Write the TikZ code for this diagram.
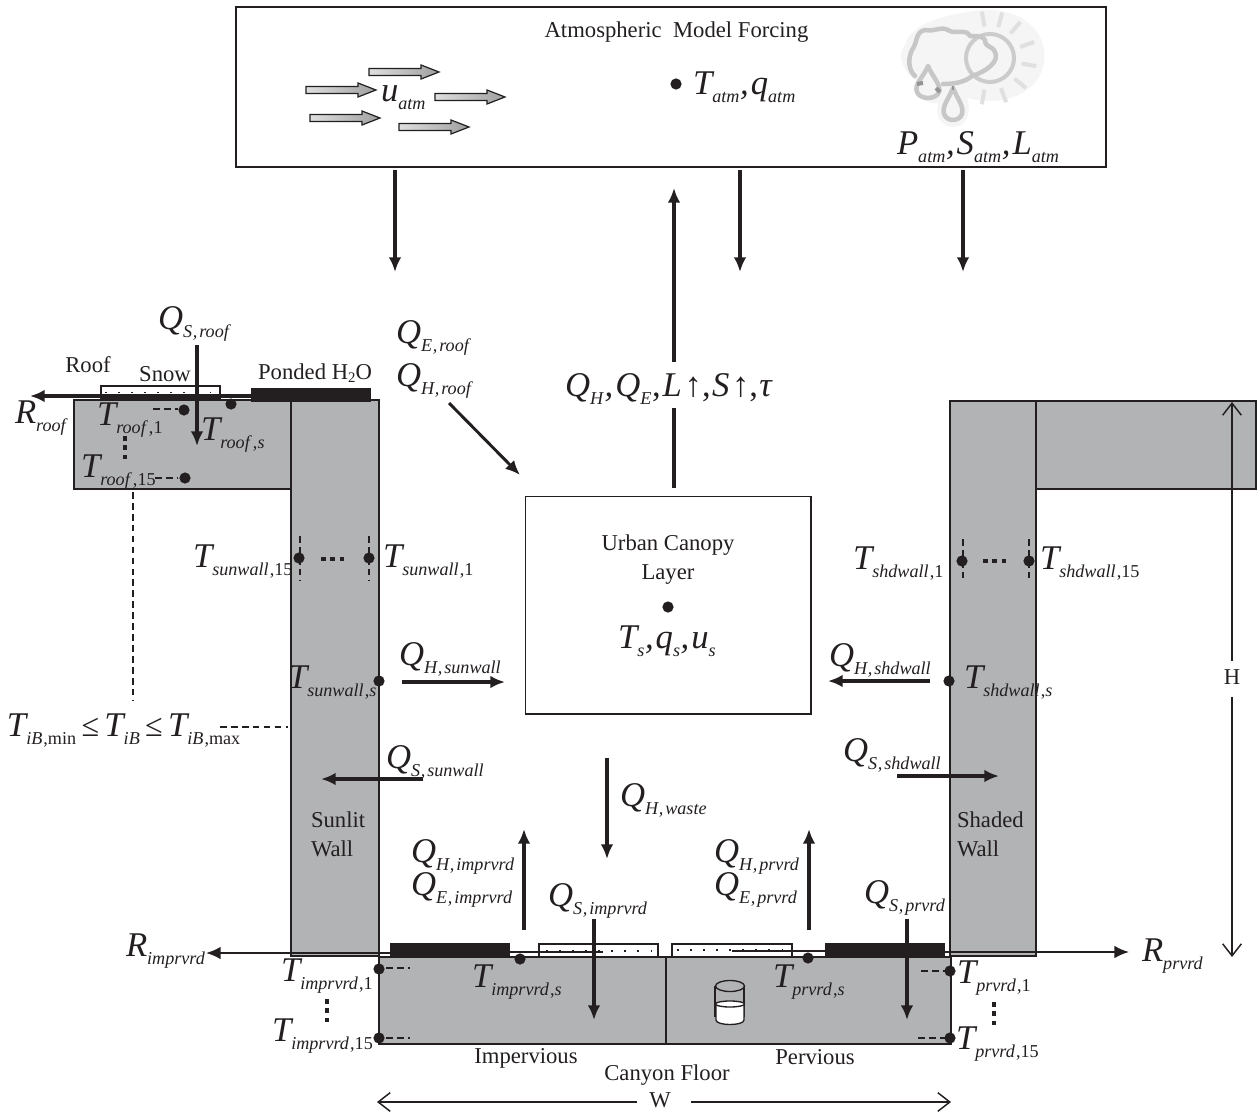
\documentclass[tikz,border=0pt]{standalone}
\usepackage{fontspec}
\setmainfont{Liberation Serif}
\usetikzlibrary{arrows.meta,calc}
\definecolor{wallgray}{RGB}{178,179,181}
\definecolor{ink}{RGB}{35,31,32}
\newcommand{\txtsize}{\fontsize{17pt}{20pt}\selectfont}
% symbol with subscript: \Sy{T}{sub}
\newcommand{\Sy}[2]{{\fontsize{26pt}{28pt}\selectfont\itshape #1}\raisebox{-6.4pt}{\fontsize{13.6pt}{15pt}\selectfont #2}}
\newcommand{\Cm}{\kern0.5pt,\kern1.5pt}
\newcommand{\Cs}{\kern0.8pt,}
\newcommand{\iz}[1]{\textit{#1}}
\tikzset{
 x=0.75pt,y=-0.75pt,
 every node/.style={inner sep=0pt,outer sep=0pt,text=ink},
 lab/.style={anchor=base west},
 plain/.style={anchor=base,align=center,font=\txtsize},
 plainleft/.style={anchor=base west,align=left,font=\txtsize},
 wall/.style={draw=ink,fill=wallgray,line width=1.1pt},
 box/.style={draw=ink,fill=white,line width=1.1pt},
 flux/.style={draw=ink,line width=2.5pt,-{Latex[length=11pt,width=9.5pt]}},
 fluxline/.style={draw=ink,line width=2.5pt},
 thin arrow/.style={draw=ink,line width=1.2pt,-{Straight Barb[length=9pt,width=14pt,line width=1.1pt]}},
 dot/.style={circle,fill=ink,minimum size=8.4pt},
 dash line/.style={draw=ink,line width=0.9pt,dash pattern=on 5pt off 3.2pt},
 squares/.style={draw=ink,line width=3.6pt,dash pattern=on 3.6pt off 3.4pt},
 snowbox/.style={draw=ink,fill=white,line width=0.8pt},
 pond/.style={fill=ink},
 windarrow/.style={draw=ink,line width=0.9pt},
 icon/.style={draw=black!22,line width=3.4pt,line cap=round,line join=round},
 ray/.style={draw=black!12,line width=3pt},
}
\newcommand{\wind}[2]{% x0, y
 \draw[windarrow,left color=gray!25,right color=gray!75] (#1,#2-3.5) -- ++(52,0) -- ++(0,-3.5) -- ++(18,7) -- ++(-18,7) -- ++(0,-3.5) -- ++(-52,0) -- cycle;}
\newcommand{\snowdots}[3]{% x0,x1,y
 \draw[draw=ink,line width=1.3pt,dash pattern=on 1.3pt off 8.5pt] (#1,#3) -- (#2,#3);}
\begin{document}
\begin{tikzpicture}
\useasboundingbox (0,0) rectangle (1259,1113);

% Atmosphere box
\draw[box] (236,7) rectangle (1106,167);
\node[plain] (atmtitle) at (676.5,38) {Atmospheric\ \ Model Forcing};
\wind{369}{72} \wind{306}{90} \wind{435}{97} \wind{310}{118} \wind{399}{127}
\node[lab] (uatm) at (381,101) {\Sy{u}{\iz{atm}}};
\node[dot] (atmdot) at (676,84) {};
\node[lab] (tatm) at (693,94) {\Sy{T}{\iz{atm}}\Sy{\Cm q}{\iz{atm}}};
\node[lab] (patm) at (897,154) {\Sy{P}{\iz{atm}}\Sy{\Cm S}{\iz{atm}}\Sy{\Cm L}{\iz{atm}}};

% Weather icon
\fill[black!4] (982,10) .. controls (1020,8) and (1048,30) .. (1044,62) .. controls (1040,92) and (1005,108) .. (967,98) .. controls (972,115) and (965,127) .. (953,127) .. controls (940,127) and (935,115) .. (938,103) .. controls (925,105) and (915,95) .. (918,82) .. controls (905,75) and (895,55) .. (905,45) .. controls (910,25) and (940,15) .. (982,10) -- cycle;
\draw[draw=black!20,line width=3pt] (990,58) circle (24);
\foreach \a in {-100,-75,-50,-20,10,40,70,100}
 \draw[ray] ($(990,58)+(\a:32)$) -- ($(990,58)+(\a:47)$);
\draw[icon] (943,84) .. controls (955,84) and (965,82) .. (972,76) .. controls (985,72) and (1000,62) .. (995,52) .. controls (992,45) and (985,48) .. (985,40) .. controls (980,34) and (975,37) .. (970,36) .. controls (966,28) and (955,35) .. (948,30) .. controls (940,26) and (935,32) .. (925,30) .. controls (915,32) and (918,42) .. (912,50) .. controls (908,58) and (908,70) .. (915,76);
\draw[icon] (928,66) .. controls (923,78) and (914,84) .. (917,92) .. controls (920,100) and (936,100) .. (939,92) .. controls (941,84) and (933,78) .. (928,66) -- cycle;
\draw[icon] (953,88) .. controls (948,100) and (942,106) .. (944,114) .. controls (947,122) and (959,122) .. (962,114) .. controls (964,106) and (958,100) .. (953,88) -- cycle;
\draw[draw=black!42,line width=3pt] (917,84) -- (923,83);
\draw[draw=black!42,line width=3pt] (936,88) -- (940,92);
\draw[draw=black!42,line width=2pt] (953,86) -- (953,90);

% Forcing arrows
\coordinate (f1s) at (395,170); \coordinate (f1e) at (395,272);
\coordinate (f2s) at (740,170); \coordinate (f2e) at (740,272);
\coordinate (f3s) at (963,170); \coordinate (f3e) at (963,272);
\draw[flux] (f1s) -- (f1e);
\draw[flux] (f2s) -- (f2e);
\draw[flux] (f3s) -- (f3e);

% Sunlit building
\draw[wall] (74,400) rectangle (291,489);
\draw[wall] (291,400) rectangle (379,956);
% Shaded building
\draw[wall] (1036,401) rectangle (1256,489);
\draw[wall] (950,401) rectangle (1036,956);
\draw[draw=ink,line width=1.8pt] (950,401) -- (1252,401);
% Canyon floor
\draw[wall] (379,957) rectangle (666,1044);
\draw[wall] (666,957) rectangle (951,1044);

% Urban canopy layer
\node[draw=ink,fill=white,line width=1.1pt,minimum width=214pt,minimum height=163pt,anchor=north west] (ucl) at (525.5,496.5) {};
\node[plain] (ucltxt) at (668,579) {Urban Canopy\\[1.5pt]Layer};
\node[dot] (ucldot) at (668,607) {};
\node[lab] (tsq) at (618,648) {\Sy{T}{\iz{s}}\Sy{\Cm q}{\iz{s}}\Sy{\Cm u}{\iz{s}}};

% Roof surface
\draw[draw=ink,line width=1.4pt] (93,400) -- (251,400);
\draw[snowbox] (101,386) rectangle (220,399);
\snowdots{105}{218}{392.5}
\fill[pond] (251,388) rectangle (371,402);
\node[plain] (rooflab) at (88,372) {Roof};
\node[plain] (snowlab) at (165,381) {Snow};
\node[plain] (pondlab) at (315,379) {Ponded H\raisebox{-2.5pt}{\fontsize{11pt}{11pt}\selectfont 2}O};
\draw[flux] (251,396) -- (30,396);
\draw[flux] (197,345) -- (197,446);
\node[lab] (rroof) at (15,423) {\Sy{R}{\iz{roof}}};
\node[lab] (qsroof) at (158,329) {\Sy{Q}{\iz{S\Cm roof}}};
\node[dot] (d1) at (184,410) {};
\node[dot] (d2) at (231,404) {};
\node[dot] (d3) at (185,478) {};
\draw[dash line] (153,409) -- (178,409);
\draw[dash line] (155,478) -- (178,478);
\draw[squares] (125,436) -- (125,461);
\node[lab] (troof1) at (97,425) {\Sy{T}{\iz{roof}\Cs 1}};
\node[lab] (troofs) at (201,440) {\Sy{T}{\iz{roof}\Cs\iz{s}}};
\node[lab] (troof15) at (81,477) {\Sy{T}{\iz{roof}\Cs 15}};

% Inner boundary
\draw[dash line] (133,492) -- (133,701);
\draw[dash line] (220,727) -- (288,727);
\node[lab] (tib) at (7,736) {\Sy{T}{\iz{iB}\Cs min}\kern4pt{\fontsize{24pt}{26pt}\selectfont ≤}\kern4pt\Sy{T}{\iz{iB}}\kern4pt{\fontsize{24pt}{26pt}\selectfont ≤}\kern4pt\Sy{T}{\iz{iB}\Cs max}};

% Roof fluxes to UCL
\node[lab] (qeroof) at (396,343) {\Sy{Q}{\iz{E\Cm roof}}};
\node[lab] (qhroof) at (396,386) {\Sy{Q}{\iz{H\Cm roof}}};
\coordinate (rf1) at (449,403); \coordinate (rf2) at (520,475);
\draw[flux,line width=2.2pt] (rf1) -- (rf2);
% Up flux
\draw[fluxline] (674,488) -- (674,408);
\draw[flux] (674,362) -- (674,188);
\node[lab] (qup) at (565,396) {\Sy{Q}{\iz{H}}\Sy{\Cm Q}{\iz{E}}{\fontsize{26pt}{28pt}\selectfont\Cm\itshape L\kern2pt\upshape↑,\kern1pt\itshape S\kern2pt\upshape↑,\kern1pt\itshape τ}};

% Sunlit wall
\node[dot] (sw15) at (299,558) {};
\node[dot] (sw1) at (369,558) {};
\draw[dash line] (300,536) -- (300,580);
\draw[dash line] (369,536) -- (369,580);
\draw[squares] (321,559) -- (345,559);
\node[lab] (tsw15) at (193,567) {\Sy{T}{\iz{sunwall}\Cs 15}};
\node[lab] (tsw1) at (383,567) {\Sy{T}{\iz{sunwall}\Cs 1}};
\node[dot] (sws) at (379,681) {};
\node[lab] (tsws) at (288,688) {\Sy{T}{\iz{sunwall}\Cs\iz{s}}};
\node[lab] (qhsw) at (399,665) {\Sy{Q}{\iz{H\Cm sunwall}}};
\draw[flux] (402,682) -- (505,682);
\node[lab] (qssw) at (386,768) {\Sy{Q}{\iz{S\Cm sunwall}}};
\draw[flux] (423,779) -- (321,779);
\node[plainleft] (sunlit) at (311,856) {Sunlit\\[1.5pt]Wall};

% Shaded wall
\node[dot] (sh1) at (962,561) {};
\node[dot] (sh15) at (1029,561) {};
\draw[dash line] (963,539) -- (963,580);
\draw[dash line] (1029,539) -- (1029,580);
\draw[squares] (983,561) -- (1008,561);
\node[lab] (tsh1) at (853,569) {\Sy{T}{\iz{shdwall}\Cs 1}};
\node[lab] (tsh15) at (1040,569) {\Sy{T}{\iz{shdwall}\Cs 15}};
\node[dot] (shs) at (949,681) {};
\node[lab] (tshs) at (964,688) {\Sy{T}{\iz{shdwall}\Cs\iz{s}}};
\node[lab] (qhsh) at (829,666) {\Sy{Q}{\iz{H\Cm shdwall}}};
\draw[flux] (930,681) -- (828,681);
\node[lab] (qssh) at (843,761) {\Sy{Q}{\iz{S\Cm shdwall}}};
\draw[flux] (897,776) -- (999,776);
\node[plainleft] (shaded) at (957,856) {Shaded\\[1.5pt]Wall};

% H and W
\coordinate (ht) at (1232,402); \coordinate (hb) at (1232,957);
\node[plain] (hlab) at (1232,684) {H};
\draw[thin arrow] (1232,661) -- (ht);
\draw[thin arrow] (1232,697) -- (hb);
\coordinate (wl) at (377,1102); \coordinate (wr) at (951,1102);
\node[plain] (wlab) at (660,1107) {W};
\draw[thin arrow] (637,1102) -- (wl);
\draw[thin arrow] (691,1102) -- (wr);

% Floor surfaces
\fill[pond] (390,943) rectangle (510,958);
\fill[pond] (825,943) rectangle (945,958);
\draw[snowbox] (539,944) rectangle (658,957);
\snowdots{546}{656}{951}
\draw[snowbox] (672,944) rectangle (792,957);
\snowdots{677}{790}{950}
\draw[draw=ink,line width=1.1pt] (510,956.5) -- (539,956.5);
\draw[draw=ink,line width=1.1pt] (792,956.5) -- (825,956.5);
\draw[draw=ink,line width=1.1pt] (379,956.5) -- (390,956.5);
\draw[draw=ink,line width=1.4pt] (510,952) -- (603,952);
\draw[draw=ink,line width=1.4pt] (732,951) -- (825,951);
\draw[flux,line width=1.5pt] (390,953) -- (206,953) ;
\draw[flux,line width=1.5pt] (945,952) -- (1129,952);
\node[lab] (rimp) at (126,956) {\Sy{R}{\iz{imprvrd}}};
\node[lab] (rprv) at (1142,961) {\Sy{R}{\iz{prvrd}}};

\node[lab] (qhimp) at (411,862) {\Sy{Q}{\iz{H\Cm imprvrd}}};
\node[lab] (qeimp) at (411,895) {\Sy{Q}{\iz{E\Cm imprvrd}}};
\node[lab] (qsimp) at (548,906) {\Sy{Q}{\iz{S\Cm imprvrd}}};
\node[lab] (qhprv) at (714,862) {\Sy{Q}{\iz{H\Cm prvrd}}};
\node[lab] (qeprv) at (714,895) {\Sy{Q}{\iz{E\Cm prvrd}}};
\node[lab] (qsprv) at (864,903) {\Sy{Q}{\iz{S\Cm prvrd}}};
\node[lab] (qhw) at (620,806) {\Sy{Q}{\iz{H\Cm waste}}};
\draw[flux] (607,758) -- (607,859);
\draw[flux] (524,930) -- (524,829);
\draw[flux] (809,930) -- (809,829);
\draw[flux] (594,919) -- (594,1020);
\draw[flux] (907,919) -- (907,1020);

\node[dot] (fi) at (520,959) {};
\node[dot] (fp) at (808,958) {};
\node[lab] (timps) at (472,987) {\Sy{T}{\iz{imprvrd}\Cs\iz{s}}};
\node[lab] (tprvs) at (773,987) {\Sy{T}{\iz{prvrd}\Cs\iz{s}}};
\node[dot] (i1) at (379,969) {};
\node[dot] (i15) at (379,1038) {};
\draw[dash line] (386,968) -- (410,968);
\draw[dash line] (386,1038) -- (410,1038);
\node[dot] (p1) at (950,971) {};
\node[dot] (p15) at (950,1038) {};
\draw[dash line] (921,971) -- (945,971);
\draw[dash line] (918,1038) -- (945,1038);
\node[lab] (ti1) at (281,981) {\Sy{T}{\iz{imprvrd}\Cs 1}};
\node[lab] (ti15) at (272,1041) {\Sy{T}{\iz{imprvrd}\Cs 15}};
\node[lab] (tp1) at (957,983) {\Sy{T}{\iz{prvrd}\Cs 1}};
\node[lab] (tp15) at (956,1049) {\Sy{T}{\iz{prvrd}\Cs 15}};
\draw[squares] (327,999) -- (327,1024);
\draw[squares] (994,1002) -- (994,1029);

% Cylinder
\draw[draw=ink,line width=1pt,fill=wallgray] (715,986) -- (715,1016) -- (744,1016) -- (744,986);
\draw[draw=ink,line width=1pt,fill=white] (716,1004) -- (716,1020) .. controls (716,1026) and (744,1026) .. (744,1020) -- (744,1004) -- cycle;
\draw[draw=ink,line width=1pt,fill=wallgray] (730,986) ellipse (14.5 and 5.5);
\draw[draw=ink,line width=1pt,fill=white] (730,1004) ellipse (14.5 and 3);

% Floor labels
\node[plain] (impv) at (526,1063) {Impervious};
\node[plain] (perv) at (815,1064) {Pervious};
\node[plain] (floor) at (667,1080) {Canyon Floor};
\end{tikzpicture}
\end{document}
